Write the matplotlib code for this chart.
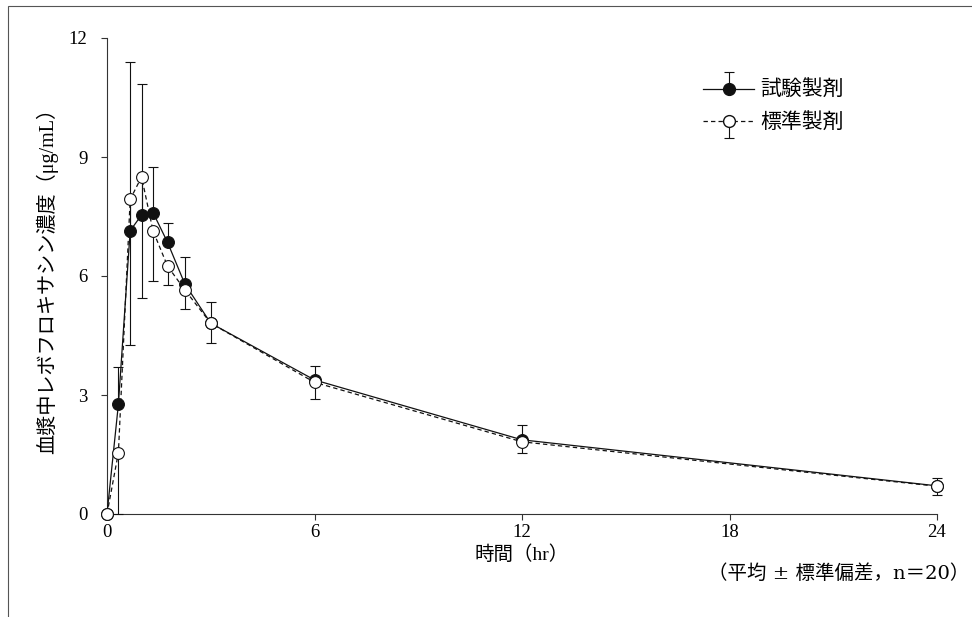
import matplotlib
matplotlib.use("Agg")
import matplotlib.pyplot as plt
import matplotlib.patches as mpatches
from matplotlib.lines import Line2D
from matplotlib.path import Path

plt.rcParams["font.family"] = ["Liberation Serif", "Noto Sans CJK JP", "DejaVu Sans"]

# データ
time = [0, 0.33, 0.67, 1, 1.33, 1.75, 2.25, 3, 6, 12, 24]
test_mean = [0, 2.77, 7.14, 7.54, 7.60, 6.85, 5.80, 4.81, 3.38, 1.87, 0.71]
test_sd = [0, 0.94, 4.25, 3.29, 1.14, 0.48, 0.69, 0.54, 0.35, 0.37, 0.21]
std_mean = [0, 1.55, 7.93, 8.50, 7.14, 6.25, 5.65, 4.81, 3.32, 1.82, 0.70]
std_sd = [0, 1.55, 3.67, 3.06, 1.27, 0.48, 0.49, 0.51, 0.43, 0.29, 0.22]

x_ticks = [0, 6, 12, 18, 24]
y_ticks = [0, 3, 6, 9, 12]
labels = ["試験製剤", "標準製剤"]

zeros = [0] * len(time)
ink = "#111111"

fig = plt.figure(figsize=(9.72, 6.17), dpi=100)
ax = fig.add_axes([107 / 972, 1 - 514 / 617, 830 / 972, 476 / 617])

# 試験製剤: 上側のみ SD
ax.errorbar(time, test_mean, yerr=[zeros, test_sd], fmt="none", ecolor=ink,
            elinewidth=0.8, capsize=3.6, capthick=0.8, zorder=2, clip_on=False)
ax.plot(time, test_mean, "-", color=ink, lw=0.9, marker="o", ms=8.5,
        mfc=ink, mec=ink, mew=0.8, zorder=3, clip_on=False)

# 標準製剤: 下側のみ SD
ax.errorbar(time, std_mean, yerr=[std_sd, zeros], fmt="none", ecolor=ink,
            elinewidth=0.8, capsize=3.6, capthick=0.8, zorder=4, clip_on=False)
ax.plot(time, std_mean, color=ink, lw=0.9, ls=(0, (3.5, 2.5)), marker="o", ms=8.5,
        mfc="white", mec=ink, mew=0.8, zorder=5, clip_on=False)

ax.set_xlim(0, 24)
ax.set_ylim(0, 12)
ax.set_xticks(x_ticks)
ax.set_yticks(y_ticks)
for s in ["top", "right"]:
    ax.spines[s].set_visible(False)
for s in ["left", "bottom"]:
    ax.spines[s].set_linewidth(0.8)
    ax.spines[s].set_color("#333333")
ax.tick_params(axis="both", direction="out", length=4, width=0.8, color="#333333",
               labelsize=13.5)
ax.tick_params(axis="y", pad=10)
ax.tick_params(axis="x", pad=3)

ax.set_xlabel("時間（hr）", fontsize=14, labelpad=3)
ax.set_ylabel("血漿中レボフロキサシン濃度（μg/mL）", fontsize=14.5, labelpad=8)

# 凡例（エラーバーの向きつき）
up = Path([(0, 0), (0, 1), (-0.3, 1), (0.3, 1)],
          [Path.MOVETO, Path.LINETO, Path.MOVETO, Path.LINETO])
down = Path([(0, 0), (0, -1), (-0.3, -1), (0.3, -1)],
            [Path.MOVETO, Path.LINETO, Path.MOVETO, Path.LINETO])
stem_up = Line2D([], [], ls="None", marker=up, ms=24, mec=ink, mew=0.8)
stem_down = Line2D([], [], ls="None", marker=down, ms=24, mec=ink, mew=0.8)
h_test = Line2D([], [], color=ink, lw=0.9, marker="o", ms=8.5, mfc=ink, mec=ink)
h_std = Line2D([], [], color=ink, lw=0.9, ls=(0, (3.5, 2.5)), marker="o", ms=8.5,
               mfc="white", mec=ink)
fig.legend([(stem_up, h_test), (stem_down, h_std)], labels, loc="center left",
           bbox_to_anchor=(703 / 972, 1 - 107.5 / 617), frameon=False,
           borderpad=0, borderaxespad=0, numpoints=1, handlelength=2.45,
           handletextpad=0.3, labelspacing=0.6, prop={"size": 15})

fig.text(969 / 972, 1 - 574 / 617, "（平均 ± 標準偏差，n＝20）", ha="right",
         va="center", fontsize=14, family=["DejaVu Serif", "Noto Sans CJK JP"])

# 外枠
fig.add_artist(mpatches.Rectangle((8 / 972, -0.1), 1.0, 1.1 - 6 / 617,
                                  transform=fig.transFigure, fill=False,
                                  edgecolor="#555555", lw=0.8))

fig.savefig("out.png", dpi=100)
